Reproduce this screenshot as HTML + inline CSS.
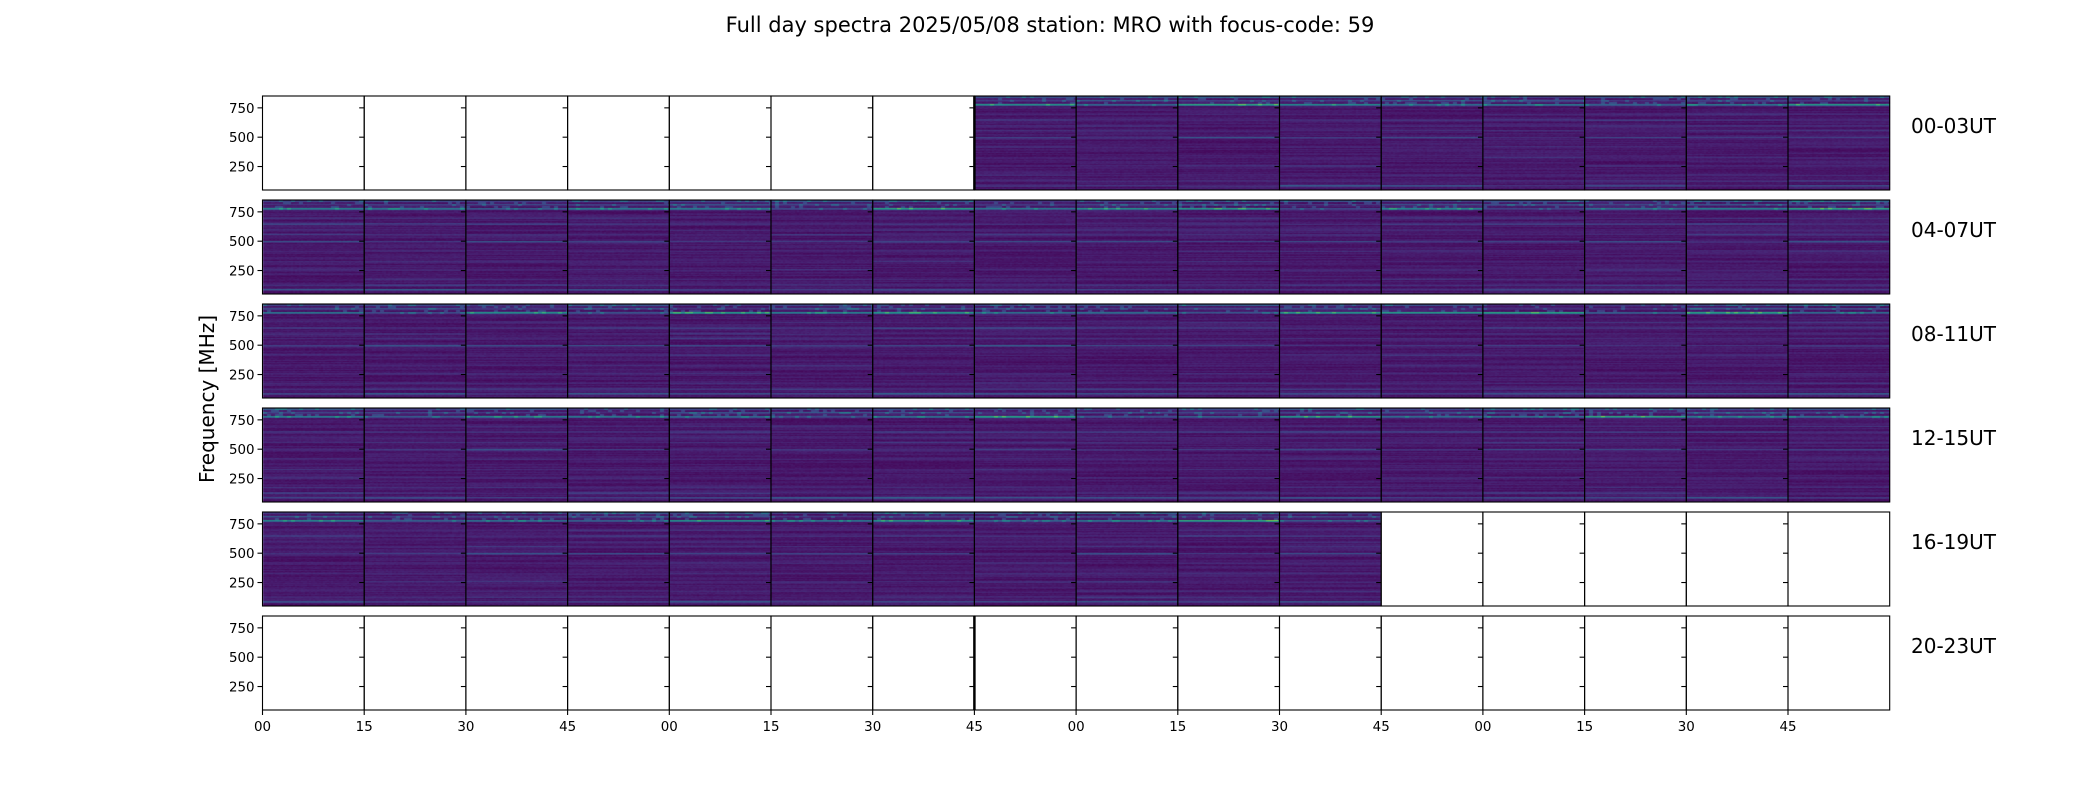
<!DOCTYPE html>
<html><head><meta charset="utf-8">
<style>
html,body{margin:0;padding:0;background:#fff;}
#wrap{position:relative;width:2100px;height:800px;overflow:hidden;font-family:"DejaVu Sans",sans-serif;}
canvas,svg{position:absolute;left:0;top:0;}
</style></head>
<body>
<div id="wrap">
<canvas id="cv" width="2100" height="800"></canvas>
<svg id="sv" width="2100" height="800"></svg>
</div>
<script>
// ---- data ----
const rowLabels = ["00-03UT","04-07UT","08-11UT","12-15UT","16-19UT","20-23UT"];
const xTickLabels = ["00","15","30","45","00","15","30","45","00","15","30","45","00","15","30","45"];
const yTicks = [250,500,750];
// panel availability (1 = data) per row, 16 quarter-hour panels each
const avail0 = [0,0,0,0,0,0,0,1,1,1,1,1,1,1,1,1];
const avail1 = [1,1,1,1,1,1,1,1,1,1,1,1,1,1,1,1];
const avail2 = [1,1,1,1,1,1,1,1,1,1,1,1,1,1,1,1];
const avail3 = [1,1,1,1,1,1,1,1,1,1,1,1,1,1,1,1];
const avail4 = [1,1,1,1,1,1,1,1,1,1,1,0,0,0,0,0];
const avail5 = [0,0,0,0,0,0,0,0,0,0,0,0,0,0,0,0];
const availability = [avail0,avail1,avail2,avail3,avail4,avail5];
// spectral band profile (MHz, intensity 0..1)
const bandFreqs = [90,130,180,260,330,420,500,560,600,650,700,780,815,845];
const bandLevels = [0.32,0.15,0.1,0.1,0.08,0.1,0.26,0.12,0.1,0.2,0.1,0.75,0.3,0.35];
const fMin = 50, fMax = 851;

// ---- layout ----
const X0 = 262.5, PW = 101.7, TOP0 = 96, PH = 94, PITCH = 104;
function yScale(f, r){ const t = TOP0 + r*PITCH; return t + PH*(fMax - f)/(fMax - fMin); }
function xLeft(c){ return X0 + c*PW; }

// ---- heatmaps ----
function hash(a,b,c){ let h = (a*374761393 + b*668265263 + c*2147483647) | 0; h = (h ^ (h>>>13))*1274126177|0; h = h ^ (h>>>16); return ((h>>>0)%10000)/10000; }
const vir = [[68,1,84],[72,35,116],[64,67,135],[52,94,141],[41,120,142],[32,144,140],[34,167,132],[68,190,112],[121,209,81],[189,222,38],[253,231,37]];
function viridis(v){ v=Math.max(0,Math.min(1,v)); const p=v*(vir.length-1); const i=Math.min(vir.length-2,Math.floor(p)); const t=p-i; return vir[i].map((c,k)=>Math.round(c+(vir[i+1][k]-c)*t)); }
const cv = document.getElementById('cv'); const ctx = cv.getContext('2d');
for (let r=0;r<6;r++){
  for (let c=0;c<16;c++){
    if(!availability[r][c]) continue;
    const x0 = Math.round(xLeft(c)), x1 = Math.round(xLeft(c+1));
    const y0 = Math.round(TOP0+r*PITCH);
    const img = ctx.createImageData(x1-x0, PH);
    for (let yy=0; yy<PH; yy++){
      const f = fMax - (yy/PH)*(fMax-fMin);
      let base = 0.02;
      for (let b=0;b<bandFreqs.length;b++){
        const d = Math.abs(f-bandFreqs[b]);
        if (d<10) base += bandLevels[b]*(1-d/10)*(0.4+hash(r,c,b));
      }
      const rowN = hash(yy,r*16+c,7)*0.07;
      for (let xx=0; xx<x1-x0; xx++){
        const n = hash(xx>>1,yy,r*16+c)*0.035;
        const hot = (f>770 ? hash(xx>>2,yy>>1,r*16+c+3) : 0) > 0.85 ? 0.15 : 0;
        const col = viridis(base*0.75+rowN+n+hot);
        const k=(yy*(x1-x0)+xx)*4;
        img.data[k]=col[0];img.data[k+1]=col[1];img.data[k+2]=col[2];img.data[k+3]=255;
      }
    }
    ctx.putImageData(img,x0,y0);
  }
}

// ---- axes ----
const NS='http://www.w3.org/2000/svg';
const sv=document.getElementById('sv');
const FF='DejaVu Sans, sans-serif';
function el(tag,attrs,text){ const e=document.createElementNS(NS,tag); for(const k in attrs) e.setAttribute(k,attrs[k]); if(text!==undefined) e.textContent=text; sv.appendChild(e); return e; }
let t = el('text',{x:1050,y:32,'text-anchor':'middle','font-size':21,'font-family':FF},'Full day spectra 2025/05/08 station: MRO with focus-code: 59');
 
t = el('text',{x:214,y:399,'text-anchor':'middle','font-size':20,transform:'rotate(-90 214 399)','font-family':FF},'Frequency [MHz]');
 
for (let r=0;r<6;r++){
  const top = TOP0+r*PITCH;
  for (let c=0;c<16;c++){
    const x=xLeft(c);
    const rc = el('rect',{x:x,y:top,width:PW,height:PH,fill:'none',stroke:'#000','stroke-width':1.1});
     
    for (const v of yTicks){
      const y=yScale(v,r);
      el('line',{x1:x-5,y1:y,x2:x,y2:y,stroke:'#000','stroke-width':1.1});
      if(c===0){ const lb=el('text',{x:x-8,y:y+5,'text-anchor':'end','font-size':13.4,'font-family':FF},String(v));
          }
    }
    if(r===5){
      el('line',{x1:x,y1:top+PH,x2:x,y2:top+PH+5,stroke:'#000','stroke-width':1.1});
      const xl=el('text',{x:x,y:top+PH+21,'text-anchor':'middle','font-size':13.4,'font-family':FF},xTickLabels[c]);
       
    }
  }
  const rl=el('text',{x:1911,y:top+37,'font-size':20,'font-family':FF},rowLabels[r]);
   
}
el('line',{x1:xLeft(7),y1:TOP0,x2:xLeft(7),y2:TOP0+PH,stroke:'#000','stroke-width':2.5});
el('line',{x1:xLeft(7),y1:TOP0+5*PITCH,x2:xLeft(7),y2:TOP0+5*PITCH+PH,stroke:'#000','stroke-width':2.5});
</script>
</body></html>
